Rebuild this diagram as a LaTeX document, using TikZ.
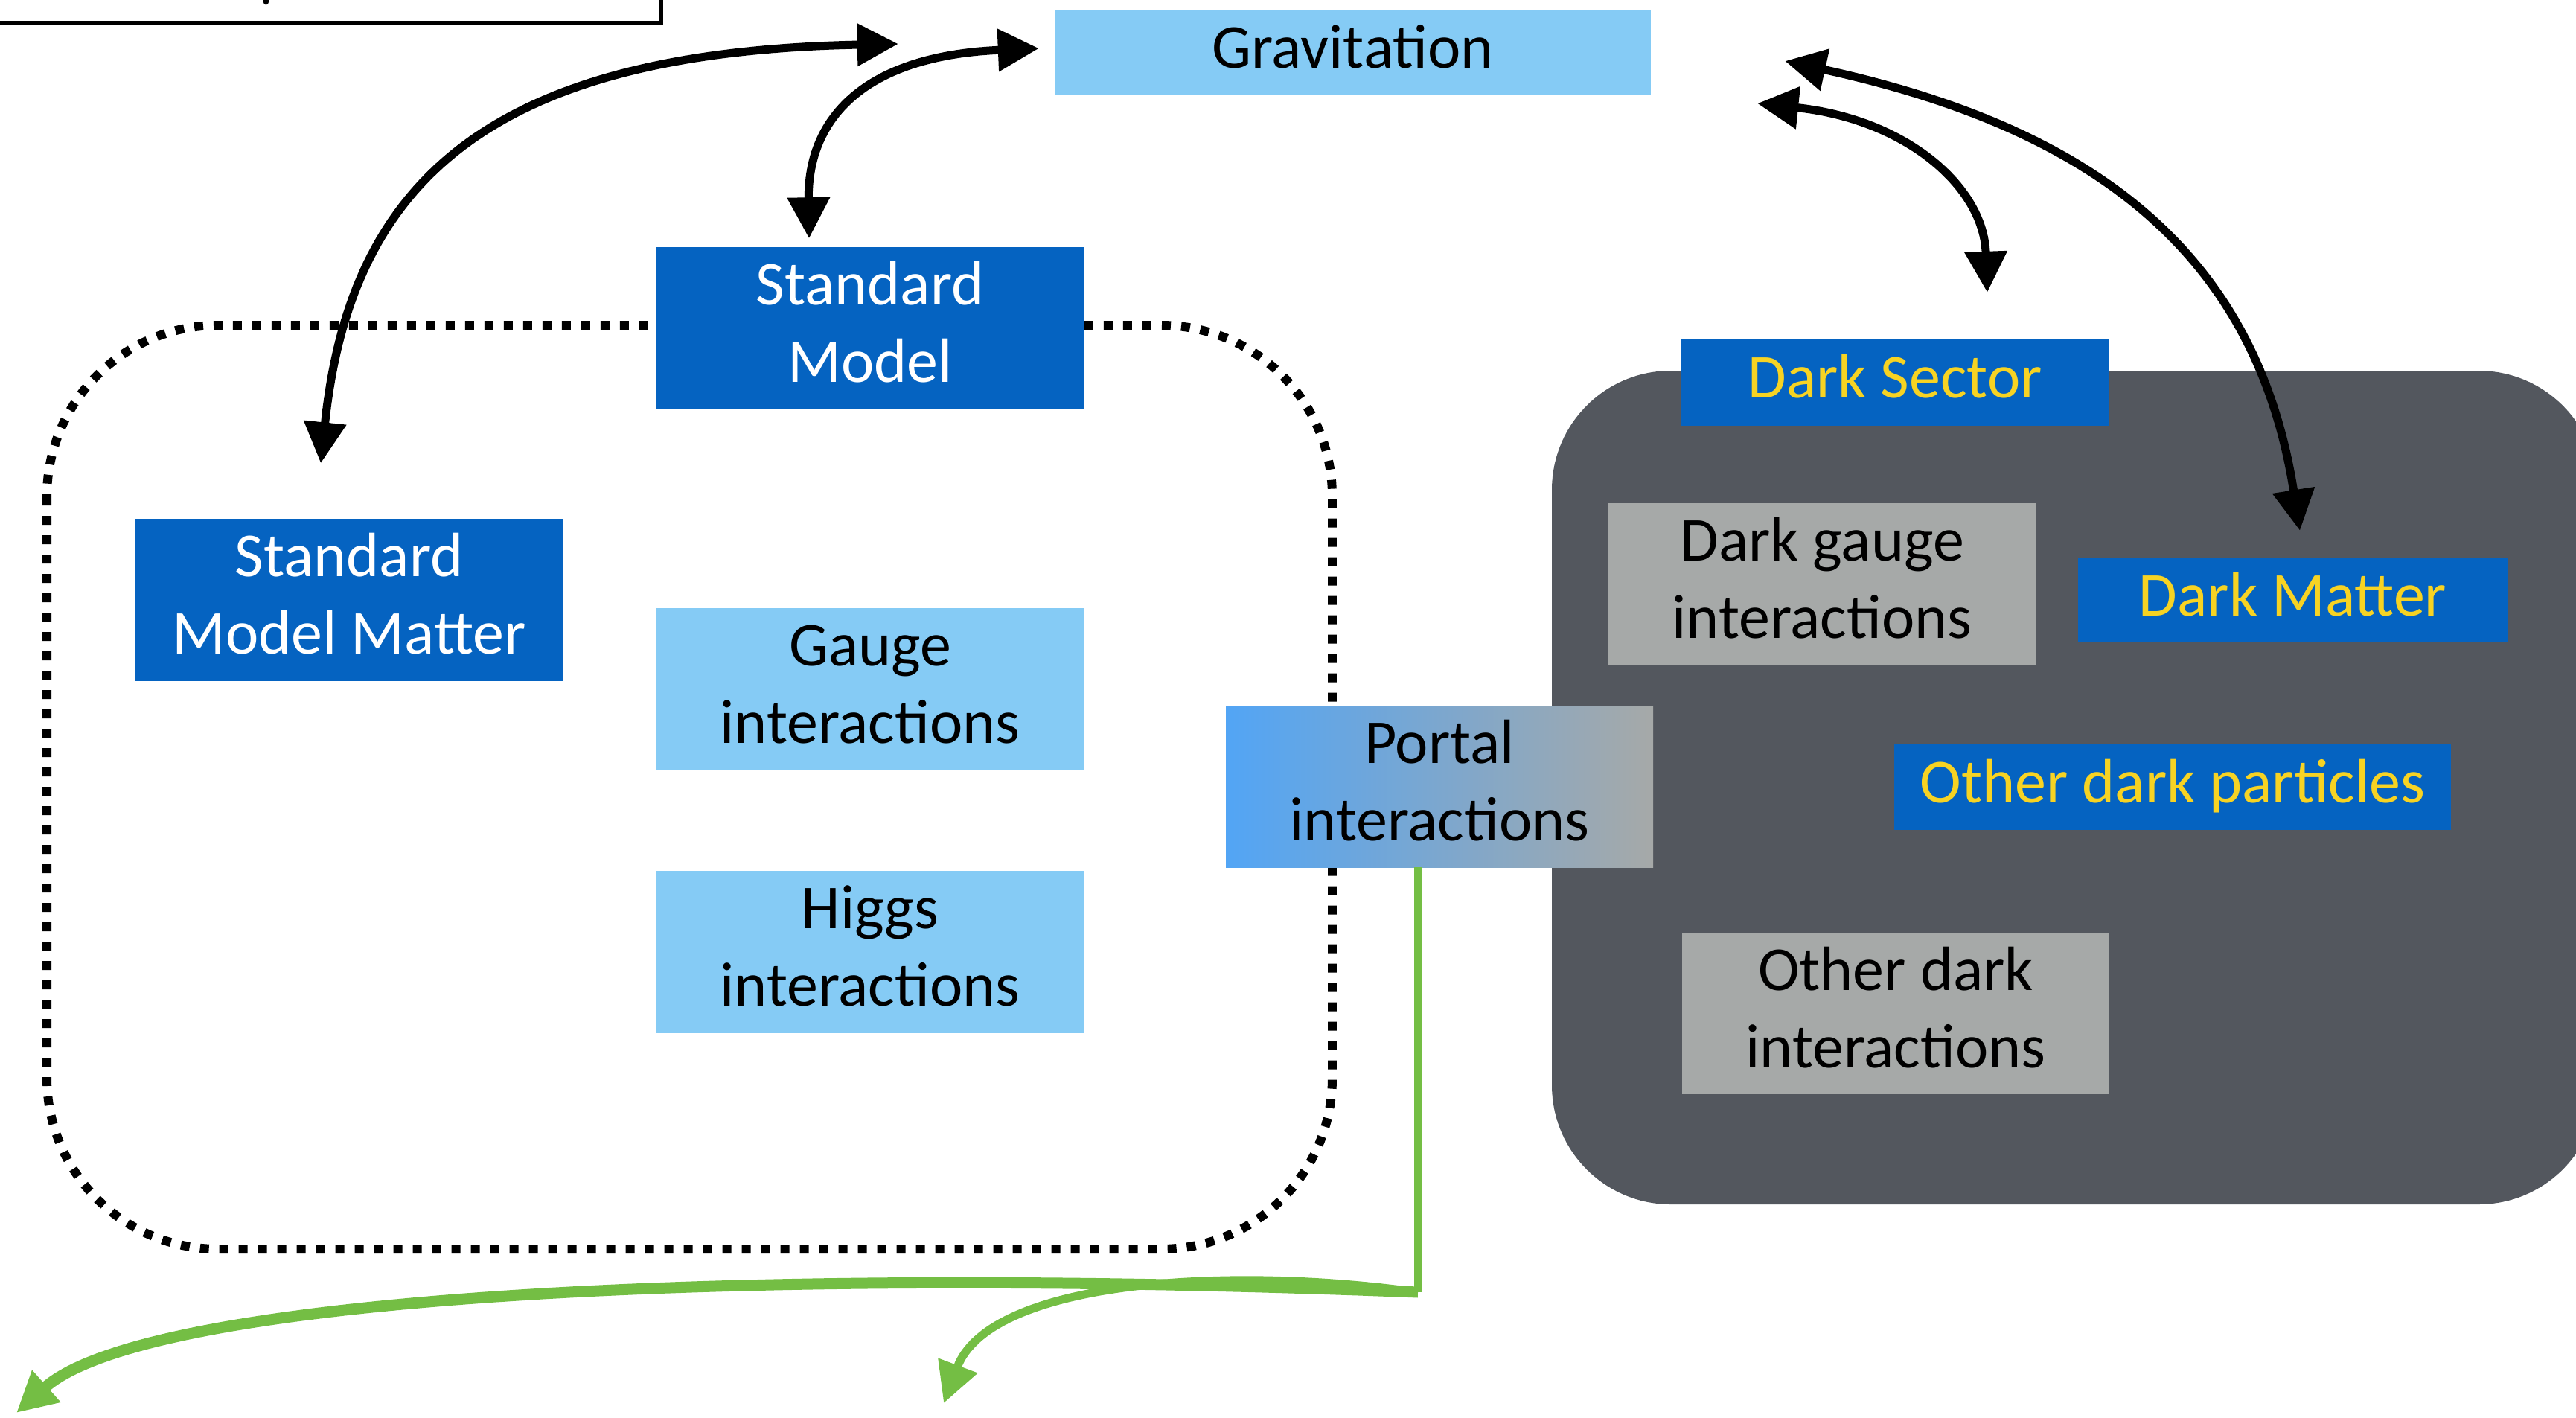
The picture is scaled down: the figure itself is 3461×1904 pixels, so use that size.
\documentclass[tikz,border=0pt]{standalone}
\usepackage{fontspec}
\setmainfont{Carlito}
\usetikzlibrary{arrows.meta}

\definecolor{smblue}{RGB}{5,99,193}
\definecolor{skyblue}{RGB}{133,203,245}
\definecolor{boxgray}{RGB}{166,169,168}
\definecolor{slate}{RGB}{83,87,94}
\definecolor{darkyellow}{RGB}{247,211,35}
\definecolor{portalblue}{RGB}{82,165,245}
\definecolor{leafgreen}{RGB}{116,190,68}

% centred lines of box text with a fixed line pitch
\newcommand{\boxlines}[1]{\begin{tabular}{@{}c@{}}#1\end{tabular}}

\begin{document}
\begin{tikzpicture}[
  x=1pt, y=-1pt,
  every node/.style={font=\fontsize{84}{104}\selectfont, inner sep=0pt},
  boxbase/.style={rectangle, minimum width=576pt, minimum height=218pt},
  smbox/.style={boxbase, fill=smblue, text=white},
  lightbox/.style={boxbase, fill=skyblue, text=black},
  darkbox/.style={boxbase, fill=smblue, text=darkyellow},
  graybox/.style={boxbase, fill=boxgray, text=black},
  gravarrow/.style={line width=11pt,
    {Triangle[length=55pt,width=55pt]}-{Triangle[length=55pt,width=55pt]}},
  portalarrow/.style={leafgreen, -{Triangle[length=54pt,width=54pt]}},
]
\useasboundingbox (0,0) rectangle (3461,1904);

% legend frame, mostly above the page
\draw[line width=5pt] (-30,-200) rectangle (888,30.5);
\draw[line width=7pt, line cap=round] (357,-20) -- (357,3);

% dark sector background
\fill[slate, rounded corners=160pt] (2085,498) rectangle (3490,1618);

% standard model frame
\draw[line width=12pt, dash pattern=on 12pt off 14pt, rounded corners=230pt]
  (63,437) rectangle (1790,1678);

% boxes
\node[lightbox, minimum width=801pt, minimum height=115pt] (grav) at (1817.5,70.5) {\boxlines{Gravitation}};
\node[smbox] (sm) at (1169,440.5) {\boxlines{Standard\\Model}};
\node[smbox] (smm) at (469,805.5) {\boxlines{Standard\\Model Matter}};
\node[lightbox] (gauge) at (1169,926) {\boxlines{Gauge\\interactions}};
\node[lightbox] (higgs) at (1169,1279) {\boxlines{Higgs\\interactions}};
\node[boxbase, minimum width=574pt, minimum height=216pt,
      left color=portalblue, right color=boxgray] (portal) at (1934,1057) {\boxlines{Portal\\interactions}};
\node[darkbox, minimum height=117pt] (ds) at (2546,513.5) {\boxlines{Dark Sector}};
\node[graybox, minimum width=574pt] (dgi) at (2448,784.5) {\boxlines{Dark gauge\\interactions}};
\node[darkbox, minimum width=577pt, minimum height=113pt] (dm) at (3080.5,806.5) {\boxlines{Dark Matter}};
\node[darkbox, minimum width=748pt, minimum height=115pt] (odp) at (2919,1057.5) {\boxlines{Other dark particles}};
\node[graybox, minimum width=574pt, minimum height=216pt] (odi) at (2547,1362) {\boxlines{Other dark\\interactions}};

% arrow end points next to the boxes
\coordinate (a1s) at ([shift={(-210,-11.5)}]grav.west);
\coordinate (a1e) at ([shift={(-38,-74)}]smm.north);
\coordinate (a2s) at ([shift={(-21,-5.5)}]grav.west);
\coordinate (a2e) at ([shift={(-82,-11)}]sm.north);
\coordinate (a3s) at ([shift={(143,68.5)}]grav.east);
\coordinate (a3e) at ([shift={(124,-62)}]ds.north);
\coordinate (a4s) at ([shift={(180,11.5)}]grav.east);
\coordinate (a4e) at ([shift={(9.5,-37)}]dm.north);

% gravitational couplings
\draw[gravarrow] (a1s) .. controls (650,70) and (470,250) .. (a1e);
\draw[gravarrow] (a2s) .. controls (1160,75) and (1085,160) .. (a2e);
\draw[gravarrow] (a3s) .. controls (2560,160) and (2665,250) .. (a3e);
\draw[gravarrow] (a4s) .. controls (2800,170) and (3030,330) .. (a4e);

% portal outputs
\coordinate (gtop) at ([xshift=-29pt]portal.south);
\coordinate (gjoin) at (1905,1736);
\coordinate (gleft) at (22,1898);
\coordinate (gmid) at (1268,1885);
\draw[leafgreen, line width=11pt] (gtop) -- (gjoin);
\draw[portalarrow, line width=15pt] (gjoin) .. controls (1000,1700) and (200,1740) .. (gleft);
\draw[portalarrow, line width=11pt] (gjoin) .. controls (1650,1700) and (1330,1720) .. (gmid);
\end{tikzpicture}
\end{document}
